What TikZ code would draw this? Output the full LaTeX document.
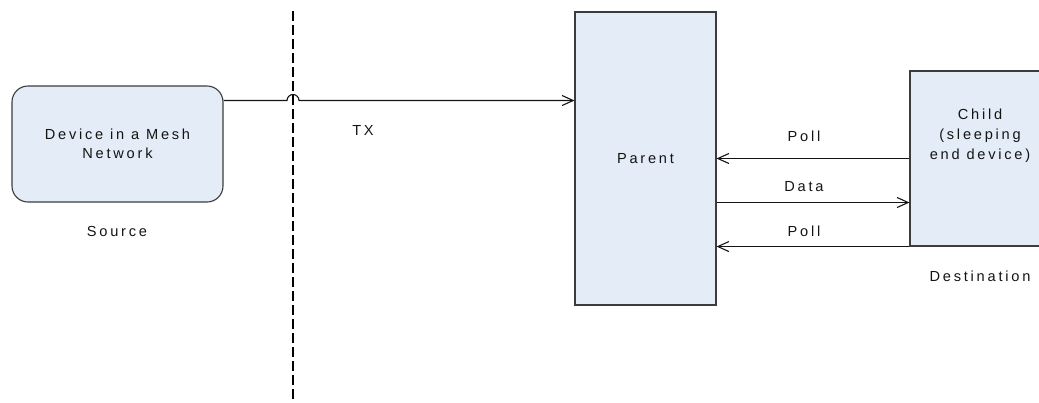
\documentclass[tikz,border=0pt]{standalone}
\usepackage{fontspec}
\setmainfont{Liberation Sans}[LetterSpace=19]
\usetikzlibrary{arrows.meta}
\definecolor{boxfill}{RGB}{228,236,247}
\definecolor{boxline}{RGB}{60,60,60}
\definecolor{txt}{RGB}{20,20,20}
\tikzset{
  devbox/.style={draw=boxline, fill=boxfill, line width=1.1bp, inner sep=0pt},
  lbl/.style={text=txt, font=\fontsize{14.6bp}{19.5bp}\selectfont, inner sep=0pt, align=center},
  arr/.style={draw=txt, line width=1.1bp, -{Straight Barb[length=11bp,width=10bp,line width=1.1bp]}},
  divider/.style={draw=black, line width=2.1bp, dash pattern=on 10bp off 4bp}
}
\begin{document}
\begin{tikzpicture}[x=1bp,y=-1bp]
\useasboundingbox (0,0) rectangle (1039,402);
\clip (0,0) rectangle (1039,402);
% boxes
\node[devbox, rounded corners=16bp, minimum width=211bp, minimum height=116bp] (dev) at (117.5,144) {};
\node[lbl] (devtxt) at (dev.center) {Device in a Mesh\\Network};
\node[devbox, minimum width=141bp, minimum height=293bp] (parent) at (645.5,158.5) {};
\node[lbl] (partxt) at (parent.center) {Parent};
\node[devbox, minimum width=141bp, minimum height=175bp] (child) at (980.5,158.5) {};
\node[lbl, font=\fontsize{14.6bp}{20bp}\selectfont] (chtxt) at (980,136) {Child\\(sleeping\\end device)};
% labels
\node[lbl] (src) at (117,231) {Source};
\node[lbl] (dst) at (980,276) {Destination};
\node[lbl] (tx) at (363,130) {TX};
\node[lbl] (poll1) at (804,136) {Poll};
\node[lbl] (data) at (804,187) {Data};
\node[lbl] (poll2) at (804,231) {Poll};
% coordinates
\coordinate (txy) at (0,100.5);
\coordinate (datay) at (0,202.5);
\coordinate (hopl) at (287,100.5);
\coordinate (dtop) at (293,11);
\coordinate (dbot) at (293,402);
% TX connector with hop
\draw[arr] (dev.east |- txy) -- (hopl) arc[start angle=180, end angle=0, radius=6bp] -- (parent.west |- txy);
% divider
\draw[divider] (dtop) -- (dbot);
% parent-child arrows
\draw[arr] (child.west) -- (child.west -| parent.east);
\draw[arr] (parent.east |- datay) -- (child.west |- datay);
\draw[arr] (child.south west) -- (child.south west -| parent.east);
\end{tikzpicture}
\end{document}
